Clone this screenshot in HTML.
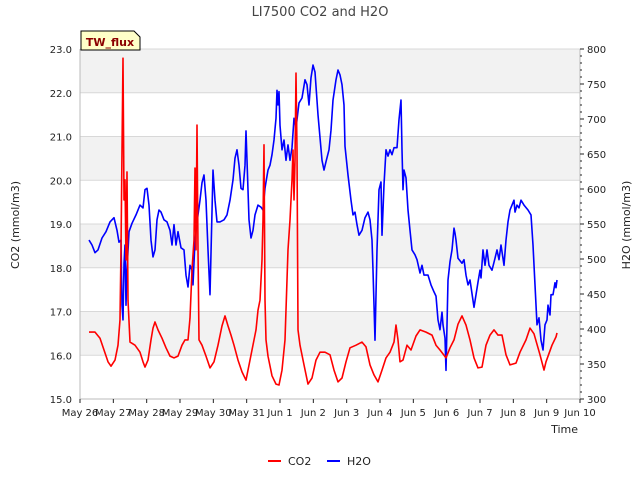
<!DOCTYPE html>
<html><head><meta charset="utf-8"><style>
body{margin:0;background:#fff}
svg{font-family:"DejaVu Sans","Liberation Sans",sans-serif}
</style></head><body>
<svg id="c" width="640" height="480" xmlns="http://www.w3.org/2000/svg">
<text x="320" y="16" text-anchor="middle" font-size="13" fill="#444">LI7500 CO2 and H2O</text>
<g id="bands"></g><g id="grid"></g><g id="axes"></g><g id="series"></g>
<text transform="translate(19,225) rotate(-90)" text-anchor="middle" font-size="11" fill="#222">CO2 (mmol/m3)</text>
<text transform="translate(630,225) rotate(-90)" text-anchor="middle" font-size="11" fill="#222">H2O (mmol/m3)</text>
<text x="578" y="433" text-anchor="end" font-size="11" fill="#222">Time</text>
<g>
<path d="M81,50 L81,31 L134,31 L140,37 L140,50 Z" fill="#ffffc8" stroke="#000" stroke-width="1"/>
<text x="110" y="46" text-anchor="middle" font-size="11" font-weight="bold" fill="#8b0000">TW_flux</text>
</g>
<g>
<g><line x1="268" y1="461" x2="281" y2="461" stroke="#f00" stroke-width="2"/><text x="288" y="465" font-size="11" fill="#222">CO2</text></g>
<g><line x1="327" y1="461" x2="340" y2="461" stroke="#00f" stroke-width="2"/><text x="347" y="465" font-size="11" fill="#222">H2O</text></g>
</g>
</svg>
<script>
const xTickLabels=["May 26","May 27","May 28","May 29","May 30","May 31","Jun 1","Jun 2","Jun 3","Jun 4","Jun 5","Jun 6","Jun 7","Jun 8","Jun 9","Jun 10"];
const leftTicks=[15,16,17,18,19,20,21,22,23];
const rightTicks=[300,350,400,450,500,550,600,650,700,750,800];
const co2Time=[0.27,0.45,0.60,0.72,0.84,0.93,1.05,1.14,1.20,1.23,1.26,1.29,1.32,1.35,1.38,1.41,1.44,1.50,1.65,1.80,1.89,1.95,2.04,2.13,2.19,2.25,2.34,2.46,2.58,2.70,2.82,2.94,3.06,3.15,3.24,3.30,3.36,3.42,3.45,3.48,3.51,3.54,3.57,3.66,3.78,3.90,4.02,4.14,4.26,4.35,4.44,4.53,4.62,4.74,4.86,4.98,5.04,5.16,5.28,5.34,5.40,5.46,5.49,5.52,5.55,5.58,5.64,5.76,5.88,5.97,6.06,6.15,6.21,6.24,6.30,6.36,6.39,6.42,6.45,6.48,6.51,6.54,6.60,6.72,6.84,6.96,7.08,7.20,7.35,7.50,7.62,7.74,7.86,7.98,8.10,8.28,8.46,8.58,8.70,8.82,8.94,9.06,9.18,9.30,9.42,9.48,9.54,9.60,9.69,9.81,9.93,10.08,10.20,10.38,10.56,10.68,10.80,10.98,11.10,11.22,11.34,11.46,11.58,11.70,11.82,11.94,12.06,12.18,12.30,12.42,12.54,12.66,12.78,12.90,13.08,13.20,13.38,13.50,13.62,13.80,13.92,13.98,14.16,14.28,14.31];
const co2Values=[16.53,16.53,16.39,16.12,15.85,15.75,15.89,16.23,16.81,18.41,20.69,22.79,19.55,20.01,18.18,20.19,17.26,16.30,16.23,16.07,15.85,15.73,15.89,16.35,16.62,16.76,16.58,16.39,16.17,15.98,15.94,15.98,16.23,16.35,16.35,16.85,17.95,18.63,20.28,18.41,21.26,18.41,16.35,16.23,15.98,15.71,15.85,16.23,16.67,16.90,16.67,16.46,16.23,15.89,15.62,15.43,15.66,16.12,16.58,17.03,17.26,18.18,19.09,20.81,17.26,16.35,15.98,15.53,15.34,15.32,15.66,16.35,17.72,18.41,19.09,20.01,20.69,19.55,20.46,22.45,20.69,16.58,16.23,15.78,15.34,15.48,15.89,16.07,16.07,16.01,15.66,15.39,15.48,15.85,16.17,16.23,16.30,16.19,15.78,15.55,15.39,15.66,15.94,16.07,16.30,16.69,16.35,15.85,15.89,16.23,16.12,16.44,16.58,16.53,16.46,16.23,16.12,15.94,16.17,16.35,16.71,16.90,16.69,16.35,15.94,15.71,15.73,16.23,16.46,16.58,16.46,16.46,16.01,15.78,15.82,16.07,16.35,16.62,16.49,16.01,15.66,15.85,16.23,16.42,16.51];
const h2oTime=[0.27,0.36,0.45,0.54,0.66,0.78,0.90,1.02,1.11,1.17,1.23,1.26,1.29,1.32,1.35,1.38,1.41,1.47,1.56,1.68,1.80,1.89,1.95,2.01,2.07,2.13,2.19,2.25,2.31,2.37,2.43,2.52,2.61,2.70,2.76,2.82,2.88,2.94,3.03,3.12,3.18,3.24,3.30,3.36,3.39,3.45,3.54,3.60,3.66,3.72,3.78,3.84,3.90,3.99,4.05,4.11,4.20,4.32,4.41,4.50,4.59,4.65,4.71,4.77,4.83,4.89,4.95,4.98,5.01,5.07,5.13,5.19,5.25,5.34,5.43,5.49,5.55,5.58,5.64,5.70,5.76,5.82,5.88,5.91,5.94,5.97,6.00,6.06,6.12,6.18,6.24,6.30,6.36,6.42,6.48,6.57,6.66,6.75,6.81,6.87,6.93,6.99,7.05,7.14,7.26,7.32,7.38,7.47,7.53,7.59,7.68,7.74,7.80,7.86,7.92,7.95,8.04,8.13,8.19,8.25,8.31,8.37,8.46,8.55,8.64,8.70,8.76,8.79,8.85,8.91,8.97,9.03,9.06,9.12,9.18,9.24,9.30,9.36,9.42,9.51,9.57,9.63,9.66,9.69,9.72,9.78,9.84,9.90,9.96,10.05,10.11,10.20,10.26,10.32,10.44,10.53,10.62,10.68,10.74,10.80,10.86,10.89,10.95,10.98,11.04,11.10,11.16,11.22,11.25,11.28,11.34,11.46,11.52,11.58,11.64,11.70,11.82,11.88,11.94,12.00,12.03,12.09,12.15,12.21,12.27,12.36,12.45,12.51,12.57,12.63,12.72,12.78,12.84,12.90,12.96,13.02,13.05,13.11,13.17,13.23,13.32,13.44,13.53,13.59,13.65,13.71,13.77,13.83,13.89,13.95,14.01,14.04,14.10,14.13,14.19,14.25,14.28,14.31];
const h2oValues=[527,520,509,513,530,539,553,559,541,524,527,434,413,493,520,434,484,539,551,563,577,573,599,601,577,527,503,513,556,570,567,556,553,541,520,549,520,539,516,513,477,460,491,484,463,527,563,584,609,620,584,513,449,627,584,553,553,556,563,584,613,644,656,634,601,599,634,683,641,556,530,541,563,577,574,570,601,610,627,634,649,670,701,741,720,739,691,656,670,641,663,641,659,701,687,723,730,756,749,720,759,777,767,706,641,627,639,656,684,727,756,770,763,749,720,661,620,584,563,567,549,534,541,559,567,556,527,484,384,513,599,610,534,606,656,647,656,649,659,659,699,727,656,599,627,616,570,541,513,506,499,480,491,477,477,463,453,447,413,399,424,406,387,341,470,496,513,544,537,527,501,494,499,477,463,470,431,449,467,484,473,513,491,513,491,484,501,513,499,520,491,527,553,570,577,584,567,577,573,584,577,570,563,520,463,406,416,384,370,406,413,434,420,449,449,466,459,470];

const NS="http://www.w3.org/2000/svg";
const L=80,R=580,T=49,B=399;
const xS=d=>L+d*(R-L)/15;
const yL=v=>B-(v-15)*(B-T)/8;
const yR=v=>B-(v-300)*(B-T)/500;
function mk(tag,at,parent){const e=document.createElementNS(NS,tag);for(const k in at)e.setAttribute(k,at[k]);parent.appendChild(e);return e;}
const bands=document.getElementById('bands'),grid=document.getElementById('grid'),axes=document.getElementById('axes'),ser=document.getElementById('series');
for(const v of [16,18,20,22]){
 const r=mk('rect',{x:L,y:yL(v+1),width:R-L,height:yL(v)-yL(v+1),fill:'#f2f2f2'},bands);
 
 
}
for(const v of leftTicks){
 const g=mk('line',{x1:L,x2:R,y1:yL(v),y2:yL(v),stroke:'#d8d8d8','stroke-width':1},grid);
 
 
 const t=mk('text',{x:L-8,y:yL(v)+4,'text-anchor':'end','font-size':10,fill:'#222'},axes);
 t.textContent=v.toFixed(1);
 
 
}
mk('line',{x1:L,x2:L,y1:T,y2:B,stroke:'#bbb'},axes);
mk('line',{x1:R,x2:R,y1:T,y2:B,stroke:'#bbb'},axes);
mk('line',{x1:L,x2:R,y1:B,y2:B,stroke:'#bbb'},axes);
for(let v=300;v<=800;v+=10){
 const big=v%50===0;
 mk('line',{x1:R,x2:R+(big?4:2),y1:yR(v),y2:yR(v),stroke:'#222'},axes);
}
for(const v of rightTicks){
 const t=mk('text',{x:R+7,y:yR(v)+4,'font-size':10,fill:'#222'},axes);
 t.textContent=v;
 
 
}
xTickLabels.forEach((s,i)=>{
 mk('line',{x1:xS(i),x2:xS(i),y1:B,y2:B+4,stroke:'#222'},axes);
 const t=mk('text',{x:xS(i),y:B+17,'text-anchor':'middle','font-size':10,fill:'#222'},axes);
 t.textContent=s;
 
 
});
function pathFor(ts,vs,ys){return ts.map((t,i)=>(i?'L':'M')+xS(t).toFixed(1)+','+ys(vs[i]).toFixed(1)).join(' ');}
const h=mk('path',{d:pathFor(h2oTime,h2oValues,yR),fill:'none',stroke:'#00f','stroke-width':1.6,'stroke-linejoin':'round'},ser);


const c=mk('path',{d:pathFor(co2Time,co2Values,yL),fill:'none',stroke:'#f00','stroke-width':1.6,'stroke-linejoin':'round'},ser);


</script>
</body></html>
